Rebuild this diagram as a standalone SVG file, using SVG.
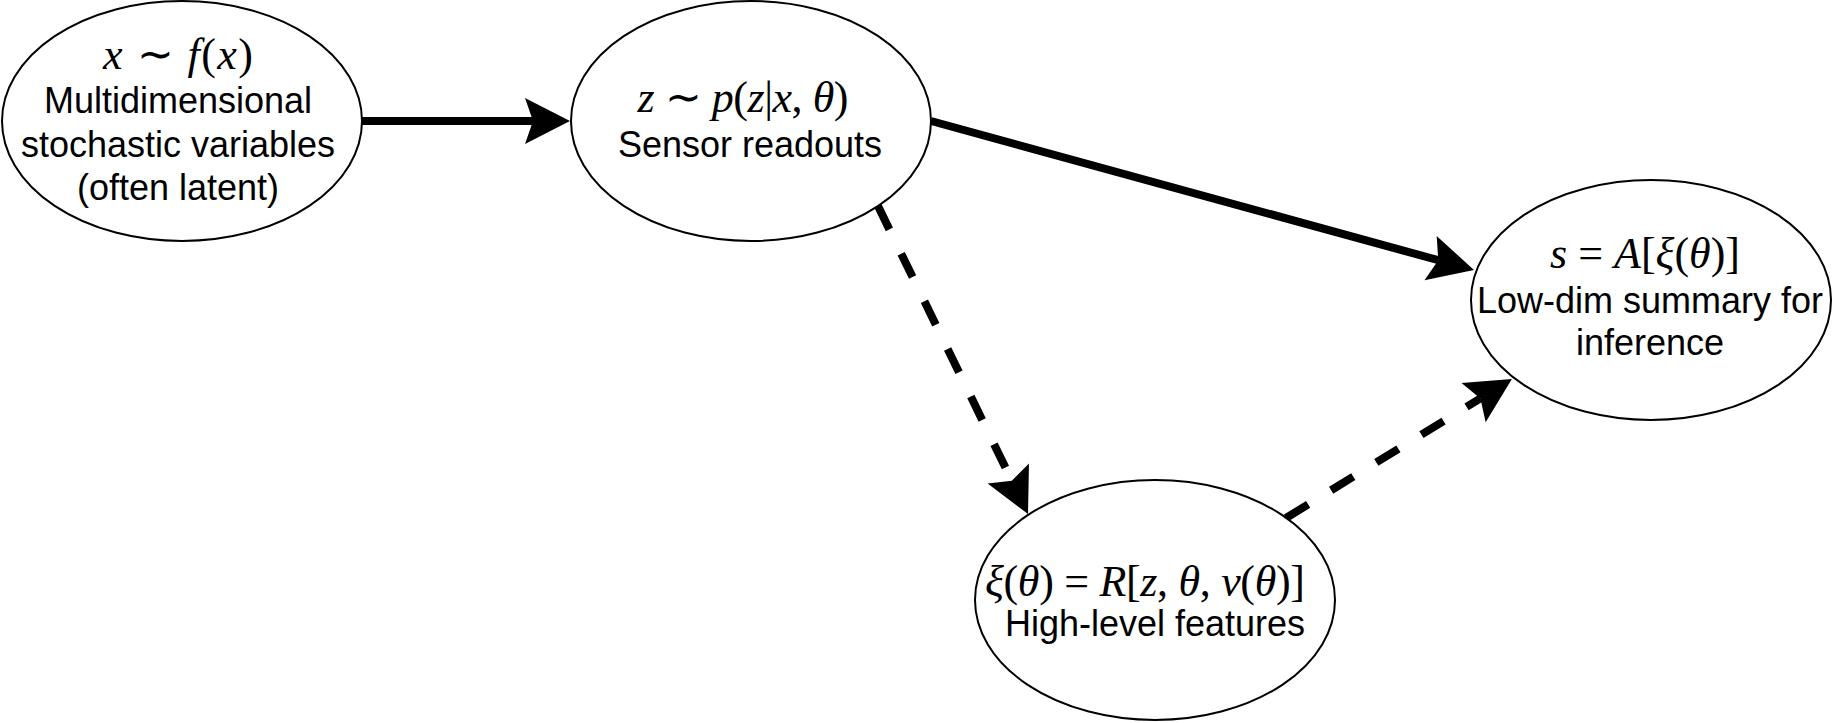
<svg xmlns="http://www.w3.org/2000/svg" width="1833" height="723" viewBox="0 0 1833 723">
<style>
.node ellipse{fill:#fff;stroke:#000;stroke-width:2}
.lbl{font-family:"Liberation Sans",Arial,sans-serif;font-size:36px;fill:#000;text-anchor:middle}
.math{font-family:"Liberation Serif","Times New Roman",serif;font-size:44px;fill:#000;text-anchor:middle}
.mi{font-style:italic}
.edge{fill:none;stroke:#000;stroke-width:8}
.dash{stroke-dasharray:26 27}
</style>
<defs>
<marker id="arr" markerUnits="userSpaceOnUse" orient="auto" refX="0" refY="0" markerWidth="50" markerHeight="50" viewBox="-10 -25 50 50" overflow="visible">
<path d="M37,0 L-8,-23 L0,0 L-8,23 Z" fill="#000"/>
</marker>
</defs>
<g id="connectors">
<path class="edge" d="M362,121 L533,121" marker-end="url(#arr)"/>
<path class="edge" d="M931,121 L1438.3,260.2" marker-end="url(#arr)"/>
<path class="edge dash" d="M878,206 L1011.8,480.7" marker-end="url(#arr)"/>
<path class="edge dash" d="M1286,518 L1480.4,398.4" marker-end="url(#arr)"/>
</g>
<g id="node-x" class="node">
<ellipse cx="182" cy="121" rx="180" ry="120"/>
<text class="math" x="178" y="69" textLength="150" lengthAdjust="spacing"><tspan class="mi">x</tspan> ∼ <tspan class="mi">f</tspan>(<tspan class="mi">x</tspan>)</text>
<text class="lbl" x="178" y="113">Multidimensional</text>
<text class="lbl" x="178" y="157">stochastic variables</text>
<text class="lbl" x="178" y="200">(often latent)</text>
</g>
<g id="node-z" class="node">
<ellipse cx="751" cy="121" rx="180" ry="120"/>
<text class="math" x="743" y="112" textLength="211" lengthAdjust="spacing"><tspan class="mi">z</tspan> ∼ <tspan class="mi">p</tspan>(<tspan class="mi">z</tspan>|<tspan class="mi">x</tspan>, <tspan class="mi">θ</tspan>)</text>
<text class="lbl" x="750" y="157">Sensor readouts</text>
</g>
<g id="node-s" class="node">
<ellipse cx="1651" cy="300" rx="180" ry="120"/>
<text class="math" x="1645" y="268" textLength="190" lengthAdjust="spacing"><tspan class="mi">s</tspan> = <tspan class="mi">A</tspan>[<tspan class="mi">ξ</tspan>(<tspan class="mi">θ</tspan>)]</text>
<text class="lbl" x="1650" y="313">Low-dim summary for</text>
<text class="lbl" x="1650" y="355">inference</text>
</g>
<g id="node-xi" class="node">
<ellipse cx="1155" cy="600" rx="180" ry="120"/>
<text class="math" x="1145" y="596" textLength="320" lengthAdjust="spacing"><tspan class="mi">ξ</tspan>(<tspan class="mi">θ</tspan>) = <tspan class="mi">R</tspan>[<tspan class="mi">z</tspan>, <tspan class="mi">θ</tspan>, <tspan class="mi">ν</tspan>(<tspan class="mi">θ</tspan>)]</text>
<text class="lbl" x="1155" y="636">High-level features</text>
</g>
</svg>
